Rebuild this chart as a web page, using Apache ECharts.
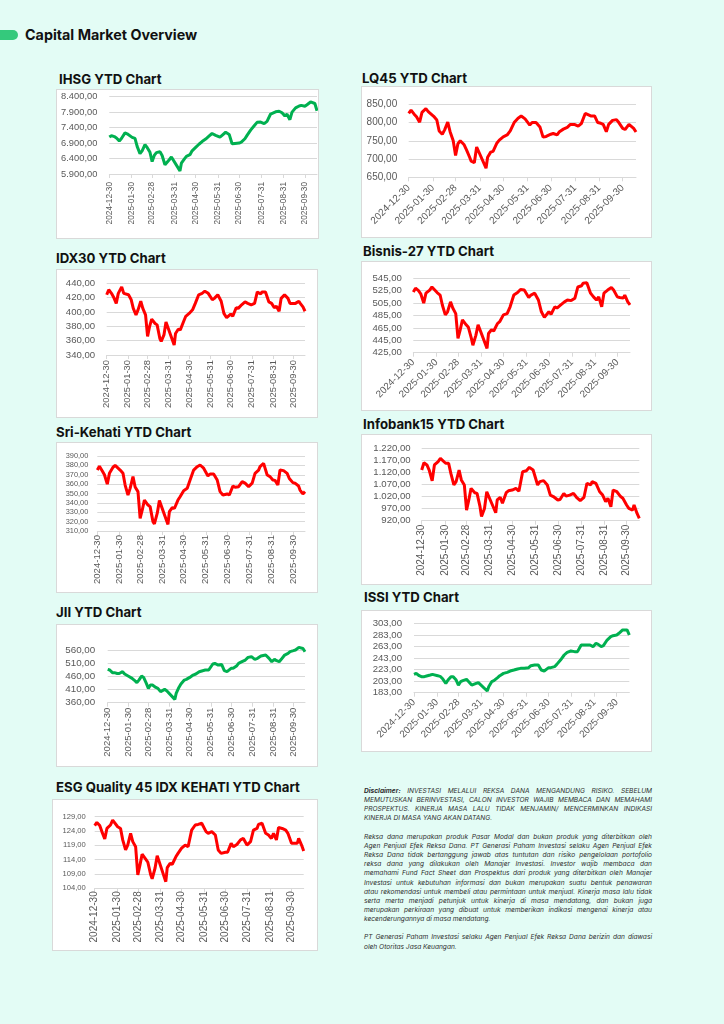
<!DOCTYPE html>
<html><head><meta charset="utf-8">
<script src="https://cdn.jsdelivr.net/npm/echarts@6/dist/echarts.min.js"></script>
<style>
html,body{margin:0;padding:0;}
body{width:724px;height:1024px;background:#e3fcf5;position:relative;overflow:hidden;font-family:Inter,"Noto Sans",sans-serif;}
.pill{position:absolute;left:0;top:30px;width:18px;height:10px;border-radius:0 5px 5px 0;background:#34c97c;}
.main{position:absolute;left:25px;top:26px;font-weight:700;font-size:14.3px;line-height:18px;color:#111;}
.ct{position:absolute;font-weight:700;font-size:13.2px;color:#111;white-space:nowrap;line-height:14px;}
.box{position:absolute;background:#fff;outline:1px solid #d9d9d9;}
.disc{position:absolute;left:364px;top:787px;width:288px;font-size:6.6px;line-height:9.15px;font-style:italic;color:#2e2e2e;}
.disc .l{text-align:justify;text-align-last:justify;}
.disc .e{text-align:left;}
.disc .gap{height:9.15px;}
</style></head>
<body>
<div class="pill"></div>
<div class="main">Capital Market Overview</div>
<div id="root"></div>
<div class="disc">
<div class="l"><b>Disclaimer:</b> INVESTASI MELALUI REKSA DANA MENGANDUNG RISIKO. SEBELUM</div>
<div class="l">MEMUTUSKAN BERINVESTASI, CALON INVESTOR WAJIB MEMBACA DAN MEMAHAMI</div>
<div class="l">PROSPEKTUS. KINERJA MASA LALU TIDAK MENJAMIN/ MENCERMINKAN INDIKASI</div>
<div class="e">KINERJA DI MASA YANG AKAN DATANG.</div>
<div class="gap"></div>
<div class="l">Reksa dana merupakan produk Pasar Modal dan bukan produk yang diterbitkan oleh</div>
<div class="l">Agen Penjual Efek Reksa Dana. PT Generasi Paham Investasi selaku Agen Penjual Efek</div>
<div class="l">Reksa Dana tidak bertanggung jawab atas tuntutan dan risiko pengelolaan portofolio</div>
<div class="l">reksa dana yang dilakukan oleh Manajer Investasi. Investor wajib membaca dan</div>
<div class="l">memahami Fund Fact Sheet dan Prospektus dari produk yang diterbitkan oleh Manajer</div>
<div class="l">Investasi untuk kebutuhan informasi dan bukan merupakan suatu bentuk penawaran</div>
<div class="l">atau rekomendasi untuk membeli atau permintaan untuk menjual. Kinerja masa lalu tidak</div>
<div class="l">serta merta menjadi petunjuk untuk kinerja di masa mendatang, dan bukan juga</div>
<div class="l">merupakan perkiraan yang dibuat untuk memberikan indikasi mengenai kinerja atau</div>
<div class="e">kecenderungannya di masa mendatang.</div>
<div class="gap"></div>
<div class="l">PT Generasi Paham Investasi selaku Agen Penjual Efek Reksa Dana berizin dan diawasi</div>
<div class="e">oleh Otoritas Jasa Keuangan.</div>
</div>
<script>
// ---- data ----
const dates = ['2024-12-30','2025-01-02','2025-01-06','2025-01-09','2025-01-13','2025-01-16','2025-01-21','2025-01-24','2025-01-31','2025-02-04',
'2025-02-07','2025-02-11','2025-02-14','2025-02-18','2025-02-21','2025-02-25','2025-02-28','2025-03-03','2025-03-06','2025-03-11',
'2025-03-14','2025-03-18','2025-03-20','2025-03-24','2025-03-27','2025-04-08','2025-04-10','2025-04-14','2025-04-17','2025-04-22',
'2025-04-25','2025-04-30','2025-05-05','2025-05-09','2025-05-14','2025-05-19','2025-05-23','2025-05-28','2025-06-03','2025-06-06',
'2025-06-11','2025-06-16','2025-06-20','2025-06-24','2025-06-30','2025-07-03','2025-07-08','2025-07-11','2025-07-16','2025-07-21',
'2025-07-25','2025-07-30','2025-08-04','2025-08-08','2025-08-13','2025-08-15','2025-08-20','2025-08-25','2025-08-29','2025-09-02',
'2025-09-05','2025-09-09','2025-09-12','2025-09-17','2025-09-22','2025-09-25','2025-09-30','2025-10-03','2025-10-08','2025-10-10',
'2025-10-14','2025-10-17'];
const tickDates = ['2024-12-30','2025-01-30','2025-02-28','2025-03-31','2025-04-30','2025-05-31','2025-06-30','2025-07-31','2025-08-31','2025-09-30'];

const ihsg = [7096,7140,7110,7063,6970,7050,7230,7200,7085,7050,
6794,6560,6650,6848,6760,6600,6300,6500,6590,6620,
6500,6200,6250,6360,6450,6000,6250,6380,6470,6524,
6650,6760,6870,6950,7030,7130,7210,7150,7090,7150,
7250,7180,6880,6890,6902,6930,7040,7150,7320,7460,
7570,7580,7530,7602,7840,7880,7910,7930,7880,7780,
7830,7656,7900,8040,8100,8120,8090,8140,8230,8271,
8180,7947];
const lq45 = [825,834,823,816,801,828,838,830,817,807,
777,768,780,801,775,750,710,742,750,739,
725,705,694,690,733,675,705,719,721,744,
752,761,766,777,800,812,818,810,793,800,
800,788,760,762,768,770,766,775,782,787,
795,795,790,797,825,820,818,818,800,798,
795,775,795,806,808,800,784,781,795,792,
784,774];
const idx30 = [424,431,426,421,412,426,435,426,424,417,
405,396,403,415,405,396,366,380,390,384,
382,363,359,368,386,354,370,376,375,387,
394,398,403,412,424,426,429,426,417,419,
424,415,398,392,397,394,406,405,410,414,
412,410,412,428,425,428,428,414,412,406,
408,401,419,424,419,412,412,412,415,412,
407,401];
const bisnis27 = [523,529,525,520,505,521,526,531,522,518,
502,486,491,507,497,488,448,462,478,470,
466,448,437,453,470,432,456,462,460,472,
475,486,488,499,518,522,527,526,514,518,
521,510,491,482,491,487,499,497,502,507,
510,509,513,531,533,537,538,521,515,510,
515,499,521,526,530,526,515,514,513,518,
507,502];
const srikehati = [375,379,374,370,360,371.5,378,380,375,371.5,
359,348.4,355.5,368,357,352,323.5,332.4,343,337.7,
336,320,317.5,329,342.4,317,330.6,335,334,343,
346.6,353,355.5,364.4,375,378.6,380.4,377,368.7,370.8,
370.8,364.4,352,348.4,349.5,348.4,358,356.6,357.3,362.6,
361,357.3,361,371.5,375,378.6,382.2,369.7,368,364.4,
364,359,375,374.4,371.5,366,361.6,361,358,353.7,
349.5,352];
const infobank15 = [1130,1160,1151,1130,1085,1151,1165,1178,1158,1158,
1116,1068,1082,1130,1089,1068,964,1006,1054,1036,
1033,978,937,971,1040,953,1006,1017,992,1036,
1044,1047,1054,1042,1123,1127,1141,1130,1068,1082,
1086,1068,1026,1020,1006,1008,1033,1022,1026,1033,
1017,1003,1017,1075,1068,1082,1075,1040,1026,999,
1013,978,1047,1040,1020,1013,985,971,964,985,
950,930];
const jii = [486.6,484,474,474,471,471,477.7,469,458.7,452.4,
446,436,446,461,456,433.5,414.5,427,427,418,
414.5,402,398,410.6,405.6,372.6,395.4,418,430.9,446,
448.6,456,465,469,477.7,481.5,484,484,507,509,
503,505.6,481.5,477.7,490.4,490.4,499,509,515.7,522,
532,534.7,524.6,528.4,537,537,541,528.4,515.7,524.6,
519.5,515.7,524.6,541,547,553.7,557.5,560,570,572.7,
566,553.7];
const issi = [214.7,216.4,212.4,210.7,210.7,211.8,213.6,214.7,212.4,210.7,
206.6,199.1,204.9,210.7,210.7,204.9,196.2,202,203.8,206,
202,196.2,195,199.1,200.3,185.9,193.4,202,203.8,209,
212.4,216.4,218.2,220.5,222.2,224,225.1,225.1,226.3,229.7,
230.9,230.9,222.2,220.5,226.3,226.3,228,232,239.5,248.2,
252.8,255.1,254,254,265.5,266.6,265.5,265.5,262.6,268.4,
266.6,262.6,264.3,274.1,279.9,281.6,282.8,285.7,291.5,294.3,
291.5,282.8];
const esg45 = [125.9,127,125.9,123.8,121.2,124.9,126.1,127.8,125.5,124.9,
120.9,117.4,119.1,123.2,120.3,118.5,108.7,112.1,115.9,114.2,
113.1,108.7,107.3,111,115.4,106.3,111.2,112.7,112.4,115,
116.2,118,119.1,118.5,124.3,126.1,126.3,126.7,123.8,123.2,
123.8,122.6,117.4,116.2,116.6,116.6,119.7,118.5,119.3,120.9,
121.4,119.1,120.3,124.3,124.9,126.3,126.7,123.2,122.6,121.4,
123.2,120.9,125.2,124.9,124.3,123.2,119.7,119.7,119.7,121.4,
119.1,117];

// ---- layout / style ----
const GREEN = '#00b050', RED = '#ff0000';
const charts = [
 {title:'IHSG YTD Chart', tpos:[59,72], values:ihsg, color:GREEN, min:5900, max:8400, interval:500, rot:90,
  box:[57,90,261,148], grid:[52.3,1,6.7,64], yFont:9.3, xFont:8.3, yMargin:12, xMargin:8},
 {title:'LQ45 YTD Chart', tpos:[362,71], values:lq45, color:RED, min:650, max:850, interval:50, rot:45,
  box:[362,87,289,150], grid:[46.7,15,17.3,59.7], yFont:10, xFont:10, yMargin:11.5, xMargin:9},
 {title:'IDX30 YTD Chart', tpos:[56,251], values:idx30, color:RED, min:340, max:440, interval:20, rot:90,
  box:[57,270,260,147], grid:[49.7,12,13.3,62], yFont:9.6, xFont:9.4, yMargin:11.5, xMargin:5},
 {title:'Bisnis-27 YTD Chart', tpos:[363,244], values:bisnis27, color:RED, min:425, max:545, interval:20, rot:45,
  box:[362,262,289,148], grid:[51.3,21,16.3,57.3], yFont:9.6, xFont:9.8, yMargin:11.5, xMargin:8},
 {title:'Sri-Kehati YTD Chart', tpos:[56,425], values:srikehati, color:RED, min:310, max:390, interval:10, rot:90,
  box:[57,443,260,149], grid:[40.3,12,13,61], yFont:7.4, xFont:9.6, yMargin:9, xMargin:4},
 {title:'Infobank15 YTD Chart', tpos:[363,417], values:infobank15, color:RED, min:920, max:1220, interval:50, rot:90,
  box:[362,435,289,149], grid:[59.7,11.7,13.3,63.3], yFont:9.6, xFont:10, yMargin:11, xMargin:4},
 {title:'JII YTD Chart', tpos:[56,605], values:jii, color:GREEN, min:360, max:595, interval:50, rot:90, hideMax:true,
  box:[57,625,260,141], grid:[50.7,12,15.8,63.3], yFont:9.8, xFont:9.6, yMargin:12.5, xMargin:5},
 {title:'ISSI YTD Chart', tpos:[364,590], values:issi, color:GREEN, min:183, max:303, interval:20, rot:45,
  box:[362,611,289,140], grid:[52,21.7,12.3,58.3], yFont:9.6, xFont:9.8, yMargin:12, xMargin:8},
 {title:'ESG Quality 45 IDX KEHATI YTD Chart', tpos:[56,780], values:esg45, color:RED, min:104, max:129, interval:5, rot:90,
  box:[53,800,264,150], grid:[41.7,13.3,16.7,61.7], yFont:7.6, xFont:10, yMargin:9, xMargin:3}
];

const DAY = 86400000;
function ts(s){const p=s.split('-').map(Number);return Date.UTC(p[0],p[1]-1,p[2]);}
const T0 = ts(dates[0]);
function dayOf(s){return Math.round((ts(s)-T0)/DAY);}
function pad(n){return n<10?'0'+n:''+n;}
function fmtDate(v){const d=new Date(T0+Math.round(v)*DAY);return d.getUTCFullYear()+'-'+pad(d.getUTCMonth()+1)+'-'+pad(d.getUTCDate());}
function fmtNum(v){const s=Number(v).toFixed(2).split('.');return s[0].replace(/\B(?=(\d{3})+(?!\d))/g,'.')+','+s[1];}

const tickDays = tickDates.map(dayOf);
const xDays = dates.map(dayOf);
const root = document.getElementById('root');
charts.forEach(c=>{
  const t=document.createElement('div');
  t.className='ct'; t.style.left=c.tpos[0]+'px'; t.style.top=c.tpos[1]+'px'; t.textContent=c.title;
  root.appendChild(t);
  const b=document.createElement('div');
  b.className='box'; b.style.left=c.box[0]+'px'; b.style.top=c.box[1]+'px';
  b.style.width=c.box[2]+'px'; b.style.height=c.box[3]+'px';
  root.appendChild(b);
  const ch=echarts.init(b,null,{renderer:'canvas'});
  ch.setOption({
    animation:false,
    grid:{left:c.grid[0],right:c.grid[1],top:c.grid[2],bottom:c.grid[3],outerBoundsMode:'none'},
    xAxis:{type:'value',min:0,max:xDays[xDays.length-1],
      splitLine:{show:false},
      axisLine:{show:true,onZero:false,lineStyle:{color:'#d9d9d9',width:1}},
      axisTick:{show:true,customValues:tickDays,length:4,lineStyle:{color:'#d9d9d9'}},
      axisLabel:{customValues:tickDays,rotate:c.rot,fontSize:c.xFont,color:'#595959',margin:c.xMargin,
        fontFamily:'Liberation Sans',formatter:fmtDate,hideOverlap:false}},
    yAxis:{type:'value',min:c.min,max:c.max,interval:c.interval,
      axisLine:{show:false},axisTick:{show:false},
      splitLine:{show:true,showMaxLine:!c.hideMax,lineStyle:{color:'#d9d9d9',width:1}},
      axisLabel:{fontSize:c.yFont,color:'#595959',margin:c.yMargin,fontFamily:'Liberation Sans',
        formatter:fmtNum,showMaxLabel:!c.hideMax}},
    series:[{type:'line',data:xDays.map((x,i)=>[x,c.values[i]]),showSymbol:false,
      lineStyle:{width:3,color:c.color},itemStyle:{color:c.color}}]
  });
});
</script>
</body></html>
